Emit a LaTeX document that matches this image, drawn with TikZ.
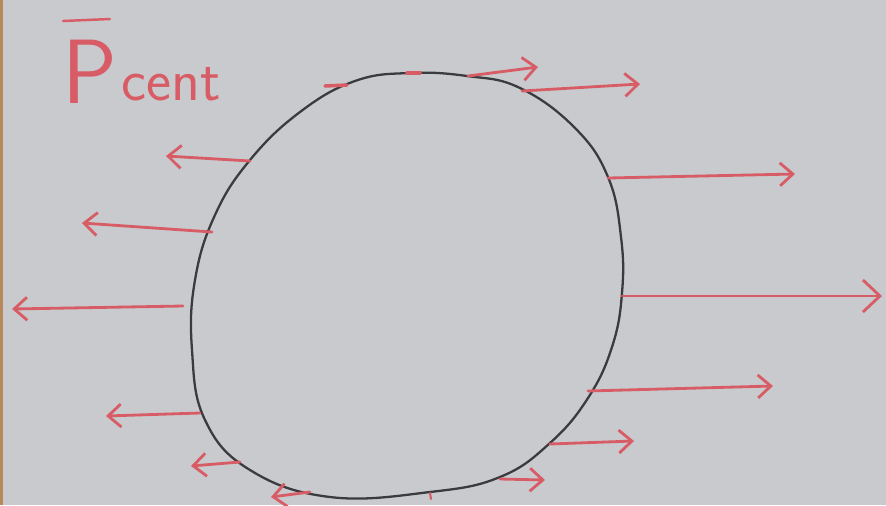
\documentclass[tikz,border=0pt]{standalone}
\usepackage{tikz}
\usetikzlibrary{arrows.meta,positioning}
\definecolor{paper}{HTML}{C9CACD}
\definecolor{paperedge}{HTML}{B8875A}
\definecolor{inkred}{HTML}{D85C66}
\definecolor{pencil}{HTML}{3A3B3E}
\tikzset{
  >={Straight Barb[length=2.6mm,width=4.6mm]},
  blob/.style={draw=pencil, line width=1.3pt, line join=round},
  force/.style={->, draw=inkred, line width=1.6pt, line cap=round},
  bigforce/.style={-{Straight Barb[length=3.4mm,width=6.4mm]}, draw=inkred, line width=1.6pt, line cap=round},
  tick/.style={draw=inkred, line width=2pt, line cap=round},
  handtext/.style={font=\sffamily, text=inkred, inner sep=0pt}
}

\begin{document}
\begin{tikzpicture}[x=0.02cm, y=-0.02cm]
\fill[paper] (0,0) rectangle (886,505);
\useasboundingbox (0,0) rectangle (886,505);
\fill[paperedge] (0,0) rectangle (3,505);
% label
\node[handtext, font=\sffamily\fontsize{52}{52}\selectfont, anchor=north west] (pvec) at (62,40) {P};
\node[handtext, font=\sffamily\fontsize{34}{34}\selectfont, anchor=base west] (cent) at (121,100) {cent};
\draw[tick, line width=1.4pt] (63,21) -- (110,19);
% the body
\draw[blob] plot[smooth cycle, tension=0.7] coordinates {
  (410,73) (467,76) (520,88) (575,128) (608,177) (621,237) (622,293)
  (612,347) (588,398) (550,443) (500,477) (430,492) (330,497) (250,470)
  (205,420) (192,350) (195,280) (215,215) (250,160) (300,112) (355,81)};
% outward pressure, left side
\draw[tick] (325,86) -- (347,85);
\draw[force] (250,161) -- (166,156);
\draw[force] (212,232) -- (82,223);
\draw[force] (183,306) -- (12,309);
\draw[force] (200,413) -- (106,416);
\draw[force] (240,462) -- (191,466);
\draw[force] (310,492) -- (271,497);
% outward pressure, right side
\draw[tick] (407,73) -- (420,73);
\draw[force] (468,76) -- (538,67);
\draw[force] (522,91) -- (640,84);
\draw[force] (608,178) -- (795,174);
\draw[bigforce] (622,296) -- (882,296);
\draw[force] (588,391) -- (773,386);
\draw[force] (550,444) -- (634,441);
\draw[force] (500,479) -- (545,480);
\draw[tick, line width=1.2pt] (430,493) -- (431,499);
\end{tikzpicture}
\end{document}
